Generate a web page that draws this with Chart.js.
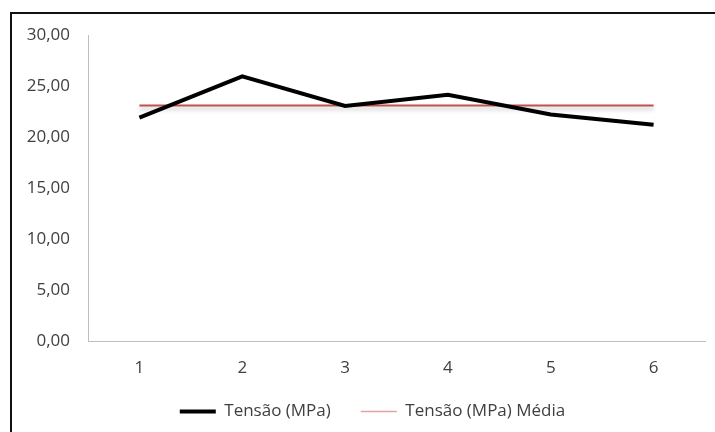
<!DOCTYPE html>
<html>
<head>
<meta charset="utf-8">
<script src="https://cdn.jsdelivr.net/npm/chart.js@4/dist/chart.umd.min.js"></script>
<style>
html,body{margin:0;padding:0;background:#fff;}
#wrap{width:715px;height:432px;position:relative;}
</style>
</head>
<body>
<div id="wrap"><canvas id="c" width="715" height="432"></canvas></div>
<script>
const categories = ['1', '2', '3', '4', '5', '6'];
const tensaoValues = [21.9, 25.95, 23.05, 24.15, 22.2, 21.2];
const mediaValues = [23.1, 23.1, 23.1, 23.1, 23.1, 23.1];
const yTicks = { min: 0, max: 30, step: 5 };
const seriesNames = ['Tensão (MPa)', 'Tensão (MPa) Média'];

const FONT = "'Open Sans', 'Noto Sans', sans-serif";
const TEXT = '#404040';

const framePlugin = {
  id: 'frame',
  beforeDraw(chart) {
    const ctx = chart.ctx;
    ctx.save();
    ctx.fillStyle = '#fff';
    ctx.fillRect(0, 0, chart.width, chart.height);
    ctx.strokeStyle = '#111';
    ctx.lineWidth = 2;
    ctx.strokeRect(11, 13, chart.width + 20, chart.height + 20);
    ctx.restore();
  },
  afterLayout(chart) {
    if (chart.legend) { chart.legend.left += 40; }
  }
};

const shadowPlugin = {
  id: 'lineShadow',
  beforeDatasetDraw(chart, args) {
    if (args.index === 1) {
      const ctx = chart.ctx;
      ctx.save();
      ctx.shadowColor = 'rgba(0,0,0,0.25)';
      ctx.shadowBlur = 4;
      ctx.shadowOffsetY = 3;
    }
  },
  afterDatasetDraw(chart, args) {
    if (args.index === 1) chart.ctx.restore();
  }
};

new Chart(document.getElementById('c'), {
  type: 'line',
  data: {
    labels: categories,
    datasets: [
      {
        label: seriesNames[0],
        data: tensaoValues,
        borderColor: '#000',
        backgroundColor: '#000',
        borderWidth: 4,
        pointRadius: 0,
        tension: 0,
        order: 0
      },
      {
        label: seriesNames[1],
        data: mediaValues,
        borderColor: '#c0504d',
        backgroundColor: '#c0504d',
        borderWidth: 2,
        pointRadius: 0,
        tension: 0,
        order: 1
      }
    ]
  },
  options: {
    responsive: false,
    animation: false,
    devicePixelRatio: 1,
    layout: { padding: { left: 0, right: 10, top: 35, bottom: 2 } },
    plugins: {
      tooltip: { enabled: false },
      legend: {
        display: true,
        position: 'bottom',
        labels: {
          usePointStyle: true,
          pointStyle: 'line',
          pointStyleWidth: 36,
          boxHeight: 14,
          padding: 30,
          color: TEXT,
          font: { family: FONT, size: 17 },
          generateLabels(chart) {
            return chart.data.datasets.map((ds, i) => ({
              text: ds.label,
              strokeStyle: i === 0 ? '#000' : '#e3a2a2',
              fillStyle: i === 0 ? '#000' : '#e3a2a2',
              lineWidth: i === 0 ? 4 : 1.5,
              pointStyle: 'line',
              hidden: false,
              datasetIndex: i,
              fontColor: TEXT
            }));
          }
        }
      }
    },
    scales: {
      x: {
        offset: true,
        grid: { display: false, drawTicks: false, offset: true },
        border: { display: true, color: '#bfbfbf', width: 1 },
        ticks: { color: TEXT, font: { family: FONT, size: 17 }, padding: 17 },
        afterFit(scale) { scale.height = 32; }
      },
      y: {
        min: yTicks.min,
        max: yTicks.max,
        grid: { display: false, drawTicks: false },
        border: { display: true, color: '#bfbfbf', width: 1 },
        ticks: {
          stepSize: yTicks.step,
          color: TEXT,
          font: { family: FONT, size: 17 },
          padding: 18,
          callback: v => v.toFixed(2).replace('.', ',')
        },
        afterFit(scale) { scale.width = 88; }
      }
    }
  },
  plugins: [framePlugin, shadowPlugin]
});
</script>
</body>
</html>
